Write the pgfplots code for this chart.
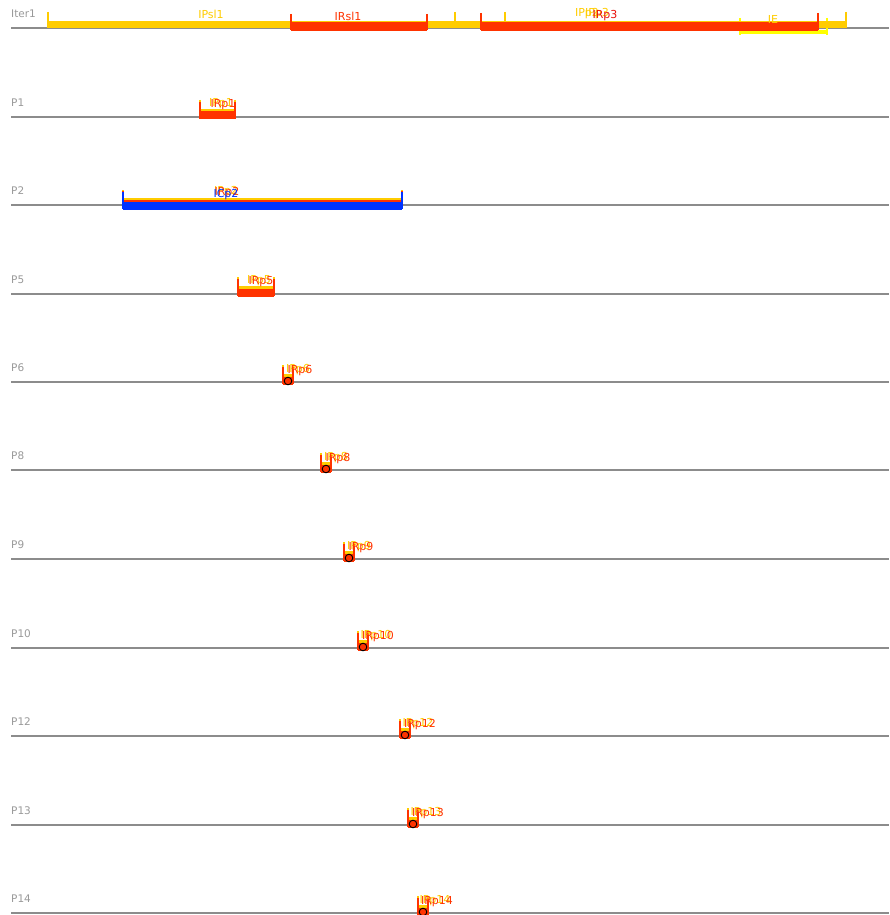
\documentclass[border=0pt]{standalone}
\usepackage{pgfplots}
\pgfplotsset{compat=1.18}
\usepackage{fontspec}
\setmainfont{DejaVu Sans}
\definecolor{cY}{HTML}{FFCC00}
\definecolor{cR}{HTML}{FF3300}
\definecolor{cRd}{HTML}{E8100A}
\definecolor{cB}{HTML}{0033FF}
\definecolor{cE}{HTML}{FFFF00}
\definecolor{cG}{HTML}{999999}
\definecolor{cL}{HTML}{8C8C8C}
% bracket: color, x1, x2, tick top, tick bottom, bar y, bar width
\newcommand{\brk}[7]{%
 \addplot[#1, line width=1.8pt] coordinates {(#2,#4) (#2,#5)};
 \addplot[#1, line width=1.8pt] coordinates {(#3,#4) (#3,#5)};
 \addplot[#1, line width=#7pt] coordinates {(#2,#6) (#3,#6)};
}
\newcommand{\base}[2]{% y, name
 \addplot[cL, line width=1.5pt] coordinates {(11,#1) (889,#1)};
}
\tikzset{lab/.style={inner sep=0pt, font=\fontsize{11}{13}\selectfont},
 glab/.style={inner sep=0pt, anchor=west, text=cG, font=\fontsize{10.5}{12}\selectfont}}
\begin{document}
\begin{tikzpicture}
\begin{axis}[name=ax, scale only axis, width=889pt, height=915pt,
 xmin=0, xmax=889, ymin=0, ymax=915, y dir=reverse, hide axis, clip=false]
% ---------------- Iter1 ----------------
\base{28}{}
\brk{cE}{740}{827}{18}{35}{32.5}{4}
\brk{cY}{48}{846}{12}{28}{24.5}{7}
\addplot[cY, line width=1.8pt] coordinates {(455,12) (455,21)};
\addplot[cY, line width=1.8pt] coordinates {(505,12) (505,21)};
\brk{cR}{291}{427}{14}{30}{26.5}{9}
\brk{cR}{481}{818}{13}{30}{26.5}{9}
\node[glab] at (axis cs:11,14) {Iter1};
\node[lab, text=cY] at (axis cs:211,14) {IPsl1};
\node[lab, text=cR] at (axis cs:348,16) {IRsl1};
\node[lab, text=cY] at (axis cs:587,14) {IPp2};
\node[lab, text=cY] at (axis cs:597,14) {IPp3};
\node[lab, text=cRd] at (axis cs:605,16) {IRp3};
\node[lab, text=cY] at (axis cs:773,19) {IE};
% ---------------- P1 ----------------
\base{117}{}
\brk{cY}{200}{235}{100}{117}{112}{6}
\brk{cR}{200}{235}{102}{119}{115.5}{8}
\node[glab] at (axis cs:11,103) {P1};
\node[lab, text=cY] at (axis cs:221,104) {IPp1};
\node[lab, text=cR] at (axis cs:223,105) {IRp1};
% ---------------- P2 ----------------
\base{205}{}
\brk{cY}{123}{402}{190}{206}{200}{4}
\brk{cR}{123}{402}{191}{207}{202}{4}
\brk{cB}{123}{402}{192}{209}{205.5}{8}
\node[glab] at (axis cs:11,191) {P2};
\node[lab, text=cY] at (axis cs:226,192) {IPp2};
\node[lab, text=cR] at (axis cs:227,193) {IRp2};
\node[lab, text=cB] at (axis cs:226,195) {ICp2};
% ---------------- P5 ----------------
\base{294}{}
\brk{cY}{238}{274}{277}{294}{289}{6}
\brk{cR}{238}{274}{279}{296}{292.5}{8}
\node[glab] at (axis cs:11,280) {P5};
\node[lab, text=cY] at (axis cs:259,281) {IPp5};
\node[lab, text=cR] at (axis cs:261,282) {IRp5};
% ---------------- P6 ----------------
\base{382}{}
\brk{cY}{283}{293}{365}{382}{377}{6}
\brk{cR}{283}{293}{367}{384}{380.5}{8}
\node[glab] at (axis cs:11,368) {P6};
\node[lab, text=cY] at (axis cs:298,370) {IPp6};
\node[lab, text=cR] at (axis cs:300,371) {IRp6};
% ---------------- P8 ----------------
\base{470}{}
\brk{cY}{321}{331}{453}{470}{465}{6}
\brk{cR}{321}{331}{455}{472}{468.5}{8}
\node[glab] at (axis cs:11,456) {P8};
\node[lab, text=cY] at (axis cs:336,458) {IPp8};
\node[lab, text=cR] at (axis cs:338,459) {IRp8};
% ---------------- P9 ----------------
\base{559}{}
\brk{cY}{344}{354}{542}{559}{554}{6}
\brk{cR}{344}{354}{544}{561}{557.5}{8}
\node[glab] at (axis cs:11,545) {P9};
\node[lab, text=cY] at (axis cs:359,547) {IPp9};
\node[lab, text=cR] at (axis cs:361,548) {IRp9};
% ---------------- P10 ----------------
\base{648}{}
\brk{cY}{358}{368}{631}{648}{643}{6}
\brk{cR}{358}{368}{633}{650}{646.5}{8}
\node[glab] at (axis cs:11,634) {P10};
\node[lab, text=cY] at (axis cs:376,636) {IPp10};
\node[lab, text=cR] at (axis cs:378,637) {IRp10};
% ---------------- P12 ----------------
\base{736}{}
\brk{cY}{400}{410}{719}{736}{731}{6}
\brk{cR}{400}{410}{721}{738}{734.5}{8}
\node[glab] at (axis cs:11,722) {P12};
\node[lab, text=cY] at (axis cs:418,724) {IPp12};
\node[lab, text=cR] at (axis cs:420,725) {IRp12};
% ---------------- P13 ----------------
\base{825}{}
\brk{cY}{408}{418}{808}{825}{820}{6}
\brk{cR}{408}{418}{810}{827}{823.5}{8}
\node[glab] at (axis cs:11,811) {P13};
\node[lab, text=cY] at (axis cs:426,813) {IPp13};
\node[lab, text=cR] at (axis cs:428,814) {IRp13};
% ---------------- P14 ----------------
\base{913}{}
\brk{cY}{418}{428}{896}{913}{908}{6}
\brk{cR}{418}{428}{898}{915}{911.5}{8}
\node[glab] at (axis cs:11,899) {P14};
\node[lab, text=cY] at (axis cs:435,901) {IPp14};
\node[lab, text=cR] at (axis cs:437,902) {IRp14};
% ---------------- point markers ----------------
\addplot[only marks, mark=*, mark size=3.8pt,
 mark options={fill=cR, draw=black, line width=0.9pt}]
 coordinates {(288,381) (326,469) (349,558) (363,647) (405,735) (413,824) (423,912)};
\end{axis}
\pgfresetboundingbox
\path (ax.south west) rectangle (ax.north east);
\end{tikzpicture}
\end{document}
